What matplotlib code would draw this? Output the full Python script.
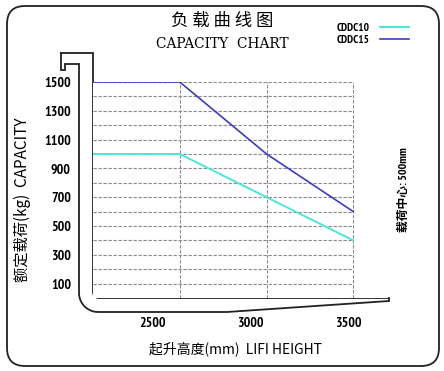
import numpy as np
import matplotlib
matplotlib.use('Agg')
from matplotlib import pyplot as plt
from matplotlib.patches import FancyBboxPatch


# data
lift_mm     = [2000, 2500, 3000, 3500]
cddc10_kg   = [1000, 1000, 700, 400]
cddc15_kg   = [1500, 1500, 1000, 600]
series      = ['CDDC10', 'CDDC15']
colors      = ['#48e6e0', '#3c3cc0']
ytick_vals  = [100, 300, 500, 700, 900, 1100, 1300, 1500]
ygrid_vals  = list(range(100, 1600, 100))
xgrid_vals  = [2500, 3000, 3500]
xtick_vals  = [2500, 3000, 3500]

narrow = dict(family='PT Sans Narrow', weight='bold')
cjk    = ['Noto Sans CJK SC', 'DejaVu Sans']
cjk_b  = ['PT Sans Narrow', 'Noto Sans CJK SC']

W, H = 444, 371
fig = plt.figure(figsize=(W/100, H/100), dpi=100)

# main plot area (pixel box 93..388 x 82..298)
ax = fig.add_axes([93/W, 1-298/H, (388-93)/W, (298-82)/H])
ax.set_xlim(2000, 3700)
ax.set_ylim(0, 1500)
for s in ax.spines.values():
    s.set_visible(False)

for yv in ygrid_vals:
    ax.plot([2000, 3500], [yv, yv], color='#8a8a8a', lw=0.8, ls=(0, (3, 1.5)), zorder=1)
for xv in xgrid_vals:
    ax.plot([xv, xv], [0, 1500], color='#8a8a8a', lw=0.8, ls=(0, (3, 1.5)), zorder=1)

l10, = ax.plot(lift_mm, cddc10_kg, color=colors[0], lw=1.4, zorder=3)
l15, = ax.plot(lift_mm, cddc15_kg, color=colors[1], lw=1.2, zorder=3)

ax.set_xticks([])
ax.set_yticks(ytick_vals)
ax.set_yticklabels([str(v) for v in ytick_vals], fontsize=10, **narrow)
ax.tick_params(axis='y', length=0, pad=16)

# tick labels along the bottom sit on their own scale
ax2 = ax.twiny()
ax2.set_xlim(2199, 3704)
ax2.xaxis.set_ticks_position('bottom')
ax2.set_xticks(xtick_vals)
ax2.set_xticklabels([str(v) for v in xtick_vals], fontsize=10, **narrow)
ax2.tick_params(axis='x', length=0, pad=14)
for s in ax2.spines.values():
    s.set_visible(False)

# decoration layer in pixel coordinates
bg = fig.add_axes([0, 0, 1, 1], zorder=-1)
bg.set_xlim(0, W)
bg.set_ylim(H, 0)
bg.axis('off')
bg.add_patch(FancyBboxPatch((7, 6), 432, 360, boxstyle='round,pad=0,rounding_size=18',
                            fill=False, ec='#222222', lw=1.3))

def arc(cx, cy, r, a0, a1, n=12):
    t = np.radians(np.linspace(a0, a1, n))
    return list(zip(cx + r*np.cos(t), cy + r*np.sin(t)))

pts = [(61, 53), (93, 53), (93, 292)] + arc(99, 292, 6, 180, 90) + \
      [(389, 298), (389, 301), (227, 312)] + arc(98, 293, 19, 90, 180) + \
      [(79, 64), (65, 64), (65, 70), (61, 70), (61, 53)]
px, py = zip(*pts)
bg.plot(px, py, color='#222222', lw=1.3, solid_joinstyle='miter')

# titles
fig.text(222/W, 1-21/H, '负 载 曲 线 图', ha='center', va='center', fontsize=12.5, family=cjk)
fig.text(222/W, 1-44/H, 'CAPACITY  CHART', ha='center', va='center', fontsize=11,
         family='DejaVu Serif', stretch='condensed')
fig.text(235/W, 1-349/H, '起升高度(mm)  LIFI HEIGHT', ha='center', va='center', fontsize=10, family=cjk)
fig.text(22/W, 1-200/H, '额定载荷(kg)  CAPACITY', ha='center', va='center', rotation=90, fontsize=11, family=cjk)
fig.text(403/W, 1-190/H, '载荷中心: 500mm', ha='center', va='center', rotation=90, fontsize=8.5,
         fontweight='bold', family=cjk_b)

fig.legend([l10, l15], series, loc='center', bbox_to_anchor=(373/W, 1-34/H), frameon=False,
           markerfirst=False, handlelength=2.6, handletextpad=0.9, labelspacing=0.15,
           prop={'family': 'PT Sans Narrow', 'weight': 'bold', 'size': 8})

fig.savefig('out.png', dpi=100)
